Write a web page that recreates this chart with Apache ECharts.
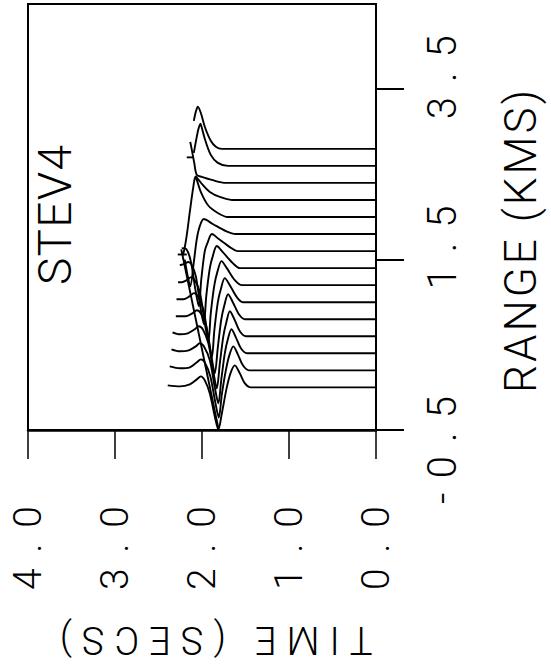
<!DOCTYPE html>
<html>
<head>
<meta charset="utf-8">
<script src="https://cdn.jsdelivr.net/npm/echarts@6.0.0/dist/echarts.min.js"></script>
<style>
html,body{margin:0;padding:0;background:#fff;}
#chart{width:551px;height:664px;}
</style>
</head>
<body>
<div id="chart"></div>
<script>
// ---- axis ticks ----
const timeTicks = [0, 1, 2, 3, 4];
const rangeTicks = [-0.5, 1.5, 3.5];
// ---- trace ranges (km) ----
const ranges = [0.0, 0.2, 0.4, 0.6, 0.8, 1.0, 1.2, 1.4, 1.6, 1.8, 2.0, 2.2, 2.4, 2.6, 2.8];
// ---- traces: [time (s), deflection (km)] ----
const trace00 = [[0,0],[1.438,0],[1.507,0.047],[1.565,0.165],[1.623,0.259],[1.669,0.176],[1.715,0],[1.772,-0.306],[1.812,-0.494],[1.853,-0.341],[1.910,-0.071],[1.968,0.082],[2.014,0.129],[2.060,0.094],[2.140,0.035],[2.255,0.012],[2.394,0.024]];
const trace02 = [[0,0],[1.461,0],[1.530,0.059],[1.588,0.188],[1.640,0.282],[1.686,0.176],[1.726,0],[1.772,-0.282],[1.807,-0.553],[1.847,-0.376],[1.904,-0.071],[1.968,0.094],[2.014,0.129],[2.060,0.094],[2.140,0.035],[2.255,0.024],[2.371,0.047]];
const trace04 = [[0,0],[1.484,0],[1.553,0.059],[1.611,0.188],[1.661,0.282],[1.703,0.165],[1.738,0],[1.778,-0.306],[1.812,-0.588],[1.853,-0.400],[1.910,-0.082],[1.979,0.082],[2.025,0.118],[2.071,0.082],[2.152,0.035],[2.255,0.024],[2.351,0.047]];
const trace06 = [[0,0],[1.496,0],[1.565,0.059],[1.628,0.200],[1.680,0.294],[1.720,0.165],[1.755,0],[1.795,-0.318],[1.830,-0.612],[1.870,-0.412],[1.927,-0.082],[1.991,0.082],[2.037,0.118],[2.083,0.082],[2.163,0.035],[2.255,0.024],[2.339,0.047]];
const trace08 = [[0,0],[1.507,0],[1.576,0.059],[1.646,0.200],[1.700,0.294],[1.743,0.165],[1.778,0],[1.818,-0.329],[1.853,-0.635],[1.893,-0.424],[1.951,-0.082],[2.014,0.071],[2.060,0.106],[2.106,0.071],[2.186,0.035],[2.301,0.035]];
const trace10 = [[0,0],[1.530,0],[1.600,0.059],[1.680,0.200],[1.738,0.282],[1.784,0.153],[1.818,0],[1.858,-0.329],[1.887,-0.647],[1.927,-0.435],[1.985,-0.082],[2.048,0.071],[2.094,0.106],[2.140,0.071],[2.209,0.035],[2.293,0.035]];
const trace12 = [[0,0],[1.542,0],[1.623,0.059],[1.715,0.200],[1.776,0.282],[1.824,0.153],[1.858,0],[1.899,-0.329],[1.927,-0.659],[1.968,-0.447],[2.025,-0.082],[2.083,0.059],[2.123,0.094],[2.175,0.059],[2.232,0.035],[2.275,0.035]];
const trace14 = [[0,0],[1.565,0],[1.646,0.059],[1.761,0.188],[1.830,0.259],[1.876,0.141],[1.910,0],[1.951,-0.329],[1.979,-0.659],[2.020,-0.447],[2.071,-0.094],[2.123,0.047],[2.157,0.071],[2.209,0.047],[2.255,0.035]];
const trace16 = [[0,0],[1.588,0],[1.680,0.047],[1.807,0.141],[1.886,0.200],[1.933,0.106],[1.968,0],[2.008,-0.329],[2.037,-0.647],[2.077,-0.447],[2.129,-0.118],[2.181,0.024],[2.232,0.035]];
const trace18 = [[0,0],[1.611,0],[1.726,0.035],[1.876,0.118],[1.979,0.176],[2.025,0.094],[2.060,-0.059],[2.094,-0.329],[2.135,-0.612],[2.169,-0.470],[2.198,-0.300]];
const trace20 = [[0,0],[1.703,0],[1.818,0.047],[1.933,0.141],[2.014,0.294],[2.060,0.435],[2.077,0.470],[2.100,0.353],[2.140,0.059],[2.175,-0.212],[2.204,-0.388],[2.221,-0.447]];
const trace22 = [[0,0],[1.657,0],[1.795,0.035],[1.910,0.094],[1.991,0.176],[2.048,0.247],[2.077,0.282]];
const trace24 = [[0,0],[1.726,0],[1.887,0.035],[2.002,0.071],[2.060,0.094],[2.089,0.235],[2.117,0.388],[2.135,0.482]];
const trace26 = [[0,0],[1.703,0],[1.818,0.035],[1.899,0.129],[1.968,0.318],[2.002,0.447],[2.017,0.494],[2.043,0.424],[2.071,0.282],[2.094,0.153]];
const trace28 = [[0,0],[1.772,0],[1.841,0.024],[1.899,0.094],[1.968,0.259],[2.014,0.424],[2.048,0.494],[2.071,0.435],[2.094,0.329]];
const traceList = [trace00, trace02, trace04, trace06, trace08, trace10, trace12, trace14, trace16, trace18, trace20, trace22, trace24, trace26, trace28];
// ---- travel-time line and pick marks: [time, range] ----
const arrivalLine = [[1.812,-0.48],[2.238,1.62]];
const pickMark1 = [[2.279,1.56],[2.175,1.56]];
const pickMark2 = [[2.175,2.70],[2.094,2.70]];

const FONT = 'Roboto, "DejaVu Sans", sans-serif';
const chart = echarts.init(document.getElementById('chart'), null, {renderer: 'svg', width: 551, height: 664});

const lineStyle = {color: '#000', width: 1.9};
const series = traceList.map((tr, i) => ({
  type: 'line',
  data: tr.map(p => [p[0], ranges[i] + p[1]]),
  symbol: 'none', showSymbol: false, smooth: 0.3,
  lineStyle: lineStyle, silent: true, clip: false, z: 3
}));
[arrivalLine, pickMark1, pickMark2].forEach(seg => series.push({
  type: 'line', data: seg, symbol: 'none', showSymbol: false,
  lineStyle: lineStyle, silent: true, clip: false, z: 3
}));

const labelFont = {fontFamily: FONT, fontWeight: 300, fontSize: 40, color: '#000'};

const option = {
  animation: false,
  backgroundColor: '#fff',
  grid: {left: 28, right: 175, top: 4, bottom: 234, show: true, borderColor: '#000', borderWidth: 2,
         backgroundColor: 'transparent', containLabel: false, outerBoundsMode: 'none'},
  xAxis: {
    type: 'value', min: timeTicks[0], max: timeTicks[timeTicks.length - 1], interval: 1,
    inverse: true, position: 'bottom',
    axisLine: {show: true, onZero: false, lineStyle: {color: '#000', width: 2.5}},
    axisTick: {show: true, inside: false, length: 29, lineStyle: {color: '#000', width: 1.5}},
    axisLabel: Object.assign({show: true, rotate: 90, margin: 118, align: 'center', verticalAlign: 'middle',
      formatter: v => v.toFixed(1)}, labelFont, {fontSize: 39}),
    splitLine: {show: false},
    name: 'TIME (SECS)', nameLocation: 'middle', nameGap: 210, nameRotate: 180,
    nameTextStyle: {fontFamily: FONT, fontWeight: 300, fontSize: 38, color: '#000',
      align: 'center', verticalAlign: 'middle', padding: [0, 28, 0, 0]}
  },
  yAxis: {
    type: 'value', min: -0.5, max: 4.5, position: 'right',
    axisLine: {show: true, onZero: false, lineStyle: {color: '#000', width: 1.5}},
    axisTick: {show: true, inside: false, length: 28, customValues: rangeTicks, lineStyle: {color: '#000', width: 2}},
    axisLabel: Object.assign({show: true, customValues: rangeTicks, rotate: 90, margin: 66, align: 'center', verticalAlign: 'middle',
      formatter: v => (v < 0 ? '{n|' : '{p|') + v.toFixed(1) + '}',
      rich: {
        p: Object.assign({padding: [0, 0, 0, 24]}, labelFont),
        n: Object.assign({padding: [0, 40, 0, 0]}, labelFont)
      }}, labelFont),
    splitLine: {show: false},
    name: 'RANGE (KMS)', nameLocation: 'middle', nameGap: 145, nameRotate: 90,
    nameTextStyle: {fontFamily: FONT, fontWeight: 300, fontSize: 44, color: '#000',
      align: 'center', verticalAlign: 'middle', padding: [0, 49, 0, 0]}
  },
  graphic: [{
    type: 'text', x: 55, y: 215, rotation: Math.PI / 2, z: 10,
    style: {text: 'STEV4', font: '300 46px ' + FONT, fill: '#000', textAlign: 'center', textVerticalAlign: 'middle'}
  }],
  series: series
};
chart.setOption(option);

// widen letter pitch to imitate the plotter lettering (keeps each text centred where ECharts put it)
const targetWidths = {'STEV4': 140, 'RANGE (KMS)': 303, 'TIME (SECS)': 313, '-0.5': 108};
function applySpacing() {
  document.querySelectorAll('#chart svg text').forEach(t => {
    const s = (t.textContent || '').trim();
    if (!s) return;
    let target = targetWidths[s];
    if (target == null && /^-?\d\.\d$/.test(s)) target = 84;
    if (target == null) return;
    t.style.letterSpacing = '0px';
    t.removeAttribute('dx');
    const w = t.getComputedTextLength();
    const n = s.length;
    const ls = (target - w) / Math.max(1, n - 1);
    const anchor = t.getAttribute('text-anchor') || t.style.textAnchor || 'start';
    let dx;
    if (anchor === 'middle') dx = ls / 2;
    else if (anchor === 'end') dx = (n + 1) * ls / 2;
    else dx = -(n - 1) * ls / 2;
    t.style.letterSpacing = ls + 'px';
    t.setAttribute('dx', dx);
  });
}
chart.on('finished', applySpacing);
applySpacing();
setTimeout(applySpacing, 30);
</script>
</body>
</html>
